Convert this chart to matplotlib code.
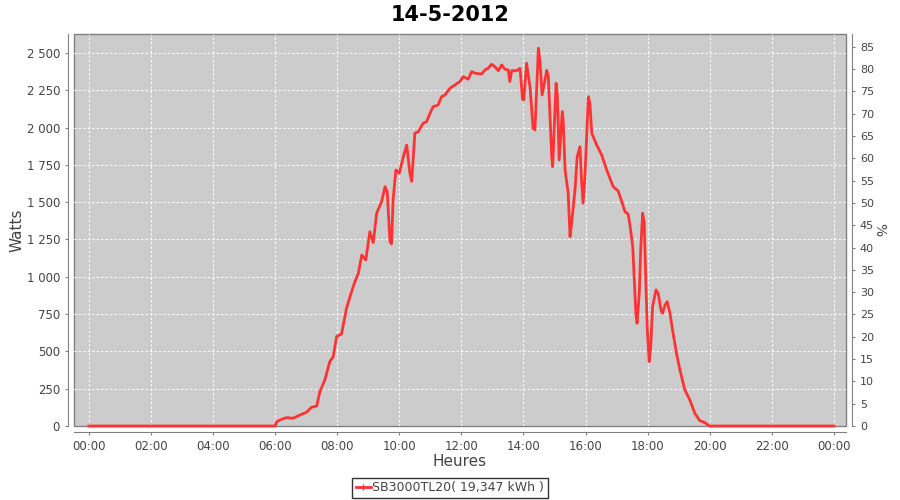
import matplotlib
matplotlib.use("Agg")
import matplotlib.pyplot as plt
from matplotlib.ticker import FuncFormatter
from matplotlib.lines import Line2D

title = "14-5-2012"
series_name = "SB3000TL20( 19,347 kWh )"

hours = [0.0, 6.0, 6.05, 6.21, 6.37, 6.58, 6.80, 7.01, 7.17, 7.34, 7.44, 7.60, 7.76, 7.87,
         7.98, 8.14, 8.30, 8.46, 8.57, 8.68, 8.79, 8.92, 9.05, 9.16, 9.27, 9.43, 9.54, 9.61,
         9.70, 9.75, 9.80, 9.89, 10.00, 10.13, 10.24, 10.34, 10.40, 10.50, 10.61, 10.77,
         10.88, 10.99, 11.09, 11.25, 11.36, 11.47, 11.63, 11.79, 11.95, 12.06, 12.22, 12.33,
         12.44, 12.65, 12.76, 12.86, 12.97, 13.08, 13.19, 13.30, 13.40, 13.51, 13.56, 13.62,
         13.78, 13.89, 13.97, 14.01, 14.10, 14.21, 14.31, 14.37, 14.48, 14.53, 14.60, 14.75,
         14.80, 14.91, 14.94, 15.05, 15.09, 15.15, 15.25, 15.28, 15.34, 15.44, 15.50, 15.55,
         15.66, 15.73, 15.82, 15.87, 15.92, 15.98, 16.09, 16.14, 16.20, 16.36, 16.52, 16.68,
         16.89, 17.05, 17.16, 17.27, 17.37, 17.43, 17.52, 17.57, 17.62, 17.66, 17.73, 17.78,
         17.84, 17.89, 17.94, 17.99, 18.05, 18.10, 18.16, 18.27, 18.34, 18.43, 18.48, 18.56,
         18.63, 18.72, 18.82, 18.93, 19.04, 19.20, 19.36, 19.52, 19.68, 19.85, 19.95, 20.0, 24.0]

watts = [0, 0, 29, 45, 56, 52, 74, 92, 125, 134, 230, 308, 431, 464,
         599, 617, 789, 900, 967, 1023, 1146, 1113, 1302, 1229, 1426, 1503, 1604, 1570,
         1235, 1220, 1515, 1716, 1694, 1805, 1883, 1694, 1640, 1962, 1972, 2029,
         2040, 2096, 2140, 2151, 2207, 2218, 2263, 2285, 2308, 2341, 2324, 2375,
         2364, 2359, 2386, 2397, 2424, 2408, 2381, 2420, 2391, 2386, 2308, 2381,
         2381, 2397, 2190, 2185, 2431, 2274, 1995, 1984, 2532, 2446, 2218, 2383,
         2341, 1805, 1738, 2297, 2218, 1783, 2107, 2051, 1716, 1560, 1269, 1359,
         1582, 1805, 1872, 1649, 1493, 1671, 2207, 2163, 1962, 1883, 1816, 1716,
         1604, 1575, 1508, 1436, 1421, 1347, 1202, 979, 755, 688, 889, 1202,
         1426, 1359, 979, 643, 431, 532, 800, 912, 889, 777, 755, 811,
         833, 755, 621, 487, 375, 241, 174, 85, 36, 22, 5, 0, 0]

x_ticks = [0, 2, 4, 6, 8, 10, 12, 14, 16, 18, 20, 22, 24]
x_tick_labels = ["00:00", "02:00", "04:00", "06:00", "08:00", "10:00", "12:00",
                 "14:00", "16:00", "18:00", "20:00", "22:00", "00:00"]
w_ticks = [0, 250, 500, 750, 1000, 1250, 1500, 1750, 2000, 2250, 2500]
pct_ticks = list(range(0, 90, 5))

W, H = 900, 500
L, R, T, B = 74, 846, 34, 426
fig = plt.figure(figsize=(9, 5), dpi=100)
ax = fig.add_axes([L/W, 1-B/H, (R-L)/W, (B-T)/H])
ax.set_facecolor("#cccccc")
ax.patch.set_edgecolor("#808080")
ax.patch.set_linewidth(1)

ax.plot(hours, watts, color="#ff3333", lw=2, solid_joinstyle="round", zorder=3, clip_on=False)

ax.set_xlim(-0.48, 24.39)
ax.set_ylim(0, 2627)
ax.set_xticks(x_ticks)
ax.set_xticklabels(x_tick_labels)
ax.set_yticks(w_ticks)
ax.yaxis.set_major_formatter(FuncFormatter(lambda v, p: f"{int(v):,}".replace(",", " ")))
ax.grid(True, color="white", ls=(0, (2, 2)), lw=0.8)
ax.set_axisbelow(True)

for s in ["left", "bottom"]:
    ax.spines[s].set_position(("outward", 4))
    ax.spines[s].set_color("#808080")
ax.spines["top"].set_visible(False)
ax.spines["right"].set_visible(False)
ax.tick_params(axis="both", colors="#808080", labelcolor="#444444", labelsize=8.5,
               length=2.5, pad=3.5)

ax2 = ax.twinx()
ax2.set_ylim(0, 87.85)
ax2.set_yticks(pct_ticks)
ax2.spines["right"].set_position(("outward", 4))
ax2.spines["right"].set_color("#808080")
for s in ["left", "bottom", "top"]:
    ax2.spines[s].set_visible(False)
ax2.tick_params(axis="y", colors="#808080", labelcolor="#444444", labelsize=8,
                length=2.5, pad=3.5)
ax2.set_ylabel("%", color="#444444", fontsize=10, rotation=270, labelpad=9)

ax.set_ylabel("Watts", color="#444444", fontsize=11)
ax.yaxis.set_label_coords((25-L)/(R-L), (B-230)/(B-T))
ax.set_xlabel("Heures", color="#444444", fontsize=11)
ax.xaxis.set_label_coords(0.5, (B-454)/(B-T))
fig.suptitle(title, fontsize=15, fontweight="bold", y=0.99)

h = Line2D([], [], color="#ff3333", lw=2, marker="|", markersize=4)
leg = fig.legend([h], [series_name], loc="center", bbox_to_anchor=(0.5, 0.024),
                 frameon=True, fancybox=False, edgecolor="black", fontsize=9,
                 handlelength=1.2, handletextpad=0.1, borderpad=0.3, borderaxespad=0)
leg.get_frame().set_linewidth(1)
for t in leg.get_texts():
    t.set_color("#444444")

fig.savefig("out.png", dpi=100)
